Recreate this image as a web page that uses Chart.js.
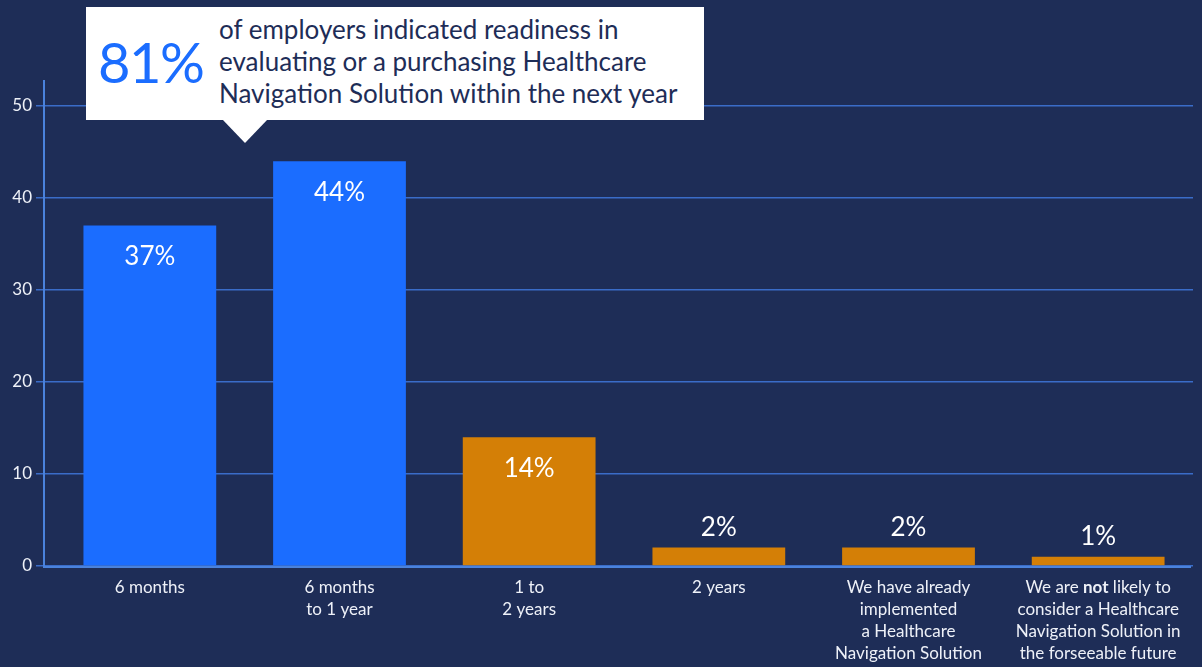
<!DOCTYPE html>
<html>
<head>
<meta charset="utf-8">
<script src="https://cdn.jsdelivr.net/npm/chart.js@4"></script>
<style>
  html, body { margin: 0; padding: 0; background: #1e2d57; }
  #wrap { position: relative; width: 1202px; height: 667px; }
  #callout {
    position: absolute; left: 86px; top: 7px; width: 618px; height: 113px;
    background: #ffffff; font-family: Lato, sans-serif;
  }
  #callout .big {
    position: absolute; left: 12px; top: 23px; font-size: 56px; line-height: 64px;
    color: #1b6dff; letter-spacing: -1.5px;
  }
  #callout .txt {
    position: absolute; left: 133px; top: 6px; font-size: 26px; line-height: 32px;
    color: #1e2d57; white-space: nowrap;
  }
  #pointer {
    position: absolute; left: 222px; top: 119px; width: 0; height: 0;
    border-left: 23px solid transparent; border-right: 23px solid transparent;
    border-top: 24px solid #ffffff;
  }
</style>
</head>
<body>
<div id="wrap">
  <canvas id="readinessChart" width="1202" height="667"></canvas>
  <div id="callout">
    <div class="big">81%</div>
    <div class="txt">of employers indicated readiness in<br>evaluating or a purchasing Healthcare<br>Navigation Solution within the next year</div>
  </div>
  <div id="pointer"></div>
</div>
<script>
// Survey answers: when employers plan to evaluate / purchase
var categories = [
    ['6 months'],
    ['6 months', 'to 1 year'],
    ['1 to', '2 years'],
    ['2 years'],
    ['We have already', 'implemented', 'a Healthcare', 'Navigation Solution'],
    ['We are **not** likely to', 'consider a Healthcare', 'Navigation Solution in', 'the forseeable future']
];
var shares = [37, 44, 14, 2, 2, 1];
var withinYear = [true, true, false, false, false, false];

var BLUE = '#1b6dff';
var ORANGE = '#d47f06';
var GRID = '#3a6cc8';
var AXIS = '#4a82dc';

// axis lines, percentage labels and multi-line category labels
var decorations = {
    id: 'decorations',
    afterDatasetsDraw: function (chart) {
        var ctx = chart.ctx;
        var area = chart.chartArea;
        var xScale = chart.scales.x;
        var meta = chart.getDatasetMeta(0);

        ctx.save();
        ctx.strokeStyle = AXIS;
        ctx.lineWidth = 2;
        ctx.beginPath();
        ctx.moveTo(44, area.top - 26);
        ctx.lineTo(44, area.bottom + 1);
        ctx.lineTo(1191, area.bottom + 1);
        ctx.stroke();

        // value labels
        ctx.fillStyle = '#ffffff';
        ctx.font = '26px Lato';
        ctx.textAlign = 'center';
        ctx.textBaseline = 'middle';
        meta.data.forEach(function (bar, i) {
            var v = shares[i];
            var y = v >= 10 ? bar.y + 31 : bar.y - 20;
            ctx.fillText(v + '%', bar.x, y);
        });

        // category labels, **word** is drawn bold
        ctx.fillStyle = '#eef1f8';
        ctx.textBaseline = 'middle';
        ctx.textAlign = 'left';
        chart.data.labels.forEach(function (lines, i) {
            var cx = xScale.getPixelForValue(i);
            lines.forEach(function (line, j) {
                var parts = line.split(/(\*\*[^*]+\*\*)/).filter(function (p) { return p; });
                var pieces = parts.map(function (p) {
                    var bold = p.indexOf('**') === 0;
                    var text = bold ? p.slice(2, -2) : p;
                    ctx.font = (bold ? 'bold ' : '') + '17px Lato';
                    return { text: text, bold: bold, w: ctx.measureText(text).width };
                });
                var total = pieces.reduce(function (s, p) { return s + p.w; }, 0);
                var x = cx - total / 2;
                var y = area.bottom + 22 + j * 22;
                pieces.forEach(function (p) {
                    ctx.font = (p.bold ? 'bold ' : '') + '17px Lato';
                    ctx.fillText(p.text, x, y);
                    x += p.w;
                });
            });
        });
        ctx.restore();
    }
};

var ctx = document.getElementById('readinessChart').getContext('2d');
var readinessChart = new Chart(ctx, {
    type: 'bar',
    data: {
        labels: categories,
        datasets: [{
            data: shares,
            backgroundColor: withinYear.map(function (w) { return w ? BLUE : ORANGE; }),
            borderWidth: 0,
            barPercentage: 0.7,
            categoryPercentage: 1.0
        }]
    },
    options: {
        responsive: false,
        animation: false,
        layout: { padding: { top: 106, right: 9, left: 0, bottom: 0 } },
        plugins: {
            legend: { display: false },
            tooltip: { enabled: false }
        },
        scales: {
            x: {
                grid: { display: false },
                border: { display: false },
                ticks: { display: false },
                afterFit: function (scale) { scale.height = 101; }
            },
            y: {
                min: 0,
                max: 50,
                ticks: {
                    stepSize: 10,
                    color: '#eef1f8',
                    padding: 4,
                    font: { family: 'Lato', size: 17 }
                },
                grid: { color: GRID, lineWidth: 1.5, tickLength: 19 },
                border: { display: false },
                afterFit: function (scale) { scale.width = 55; }
            }
        }
    },
    plugins: [decorations]
});
</script>
</body>
</html>
